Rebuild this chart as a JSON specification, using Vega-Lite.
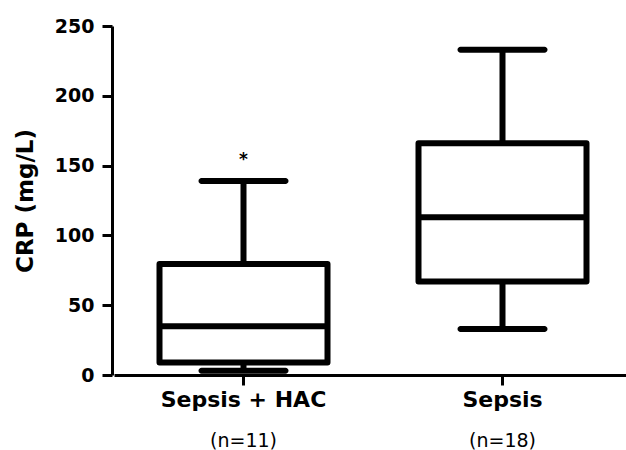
{
  "$schema": "https://vega.github.io/schema/vega-lite/v6.json",
  "autosize": {"type": "none"},
  "padding": {"left": 112, "top": 26, "right": 0, "bottom": 75},
  "width": 514,
  "height": 349,
  "background": "white",
  "config": {
    "view": {"stroke": null},
    "font": "DejaVu Sans"
  },
  "data": {
    "values": [
      {"group": "Sepsis + HAC", "n": "(n=11)", "min": 3, "q1": 9, "median": 35, "q3": 79.5, "max": 139, "sig": "*"},
      {"group": "Sepsis", "n": "(n=18)", "min": 33, "q1": 67, "median": 113, "q3": 166, "max": 233, "sig": ""}
    ]
  },
  "encoding": {
    "x": {
      "field": "group",
      "type": "nominal",
      "sort": ["Sepsis + HAC", "Sepsis"],
      "scale": {"paddingInner": 0, "paddingOuter": 0, "range": [2, 520]},
      "axis": null
    }
  },
  "layer": [
    {
      "mark": {"type": "rule", "stroke": "black", "strokeWidth": 6},
      "encoding": {
        "x": {
          "field": "group", "type": "nominal", "sort": ["Sepsis + HAC", "Sepsis"],
          "axis": {
            "title": null,
            "labelAngle": 0,
            "labelFont": "DejaVu Sans",
            "labelFontSize": 22,
            "labelFontWeight": "bold",
            "labelColor": "black",
            "labelPadding": 4,
            "domainColor": "black",
            "domainWidth": 3,
            "tickColor": "black",
            "tickWidth": 3,
            "tickSize": 10
          }
        },
        "y": {
          "field": "min", "type": "quantitative",
          "scale": {"domain": [0, 250], "nice": false, "zero": true},
          "axis": {
            "title": "CRP (mg/L)",
            "titleFont": "DejaVu Sans",
            "titleFontSize": 23,
            "titleFontWeight": "bold",
            "titleColor": "black",
            "titlePadding": 17,
            "values": [0, 50, 100, 150, 200, 250],
            "grid": false,
            "labelFont": "DejaVu Sans",
            "labelFontSize": 19,
            "labelFontWeight": "bold",
            "labelColor": "black",
            "labelPadding": 8,
            "domainColor": "black",
            "domainWidth": 3,
            "tickColor": "black",
            "tickWidth": 3,
            "tickSize": 10
          }
        },
        "y2": {"field": "max"}
      }
    },
    {
      "mark": {"type": "bar", "size": 168, "fill": "white", "stroke": "black", "strokeWidth": 6, "strokeJoin": "round"},
      "encoding": {
        "y": {"field": "q1", "type": "quantitative"},
        "y2": {"field": "q3"}
      }
    },
    {
      "mark": {"type": "tick", "size": 168, "thickness": 6, "color": "black", "opacity": 1},
      "encoding": {"y": {"field": "median", "type": "quantitative"}}
    },
    {
      "mark": {"type": "tick", "size": 90, "thickness": 6, "color": "black", "opacity": 1, "cornerRadius": 3},
      "encoding": {"y": {"field": "max", "type": "quantitative"}}
    },
    {
      "mark": {"type": "tick", "size": 90, "thickness": 6, "color": "black", "opacity": 1, "cornerRadius": 3},
      "encoding": {"y": {"field": "min", "type": "quantitative"}}
    },
    {
      "mark": {"type": "text", "font": "DejaVu Sans", "fontSize": 17, "fontWeight": "bold", "color": "black", "baseline": "alphabetic", "dy": -16},
      "encoding": {
        "x": {
          "field": "group", "type": "nominal", "sort": ["Sepsis + HAC", "Sepsis"],
          "axis": {
            "orient": "bottom",
            "offset": 50,
            "title": null,
            "domain": false,
            "ticks": false,
            "labelAngle": 0,
            "labelExpr": "datum.value == 'Sepsis' ? '(n=18)' : '(n=11)'",
            "labelFont": "DejaVu Sans",
            "labelFontSize": 19,
            "labelColor": "black",
            "labelPadding": 6
          }
        },
        "y": {"field": "max", "type": "quantitative"},
        "text": {"field": "sig"}
      }
    }
  ],
  "resolve": {"axis": {"x": "independent"}}
}
